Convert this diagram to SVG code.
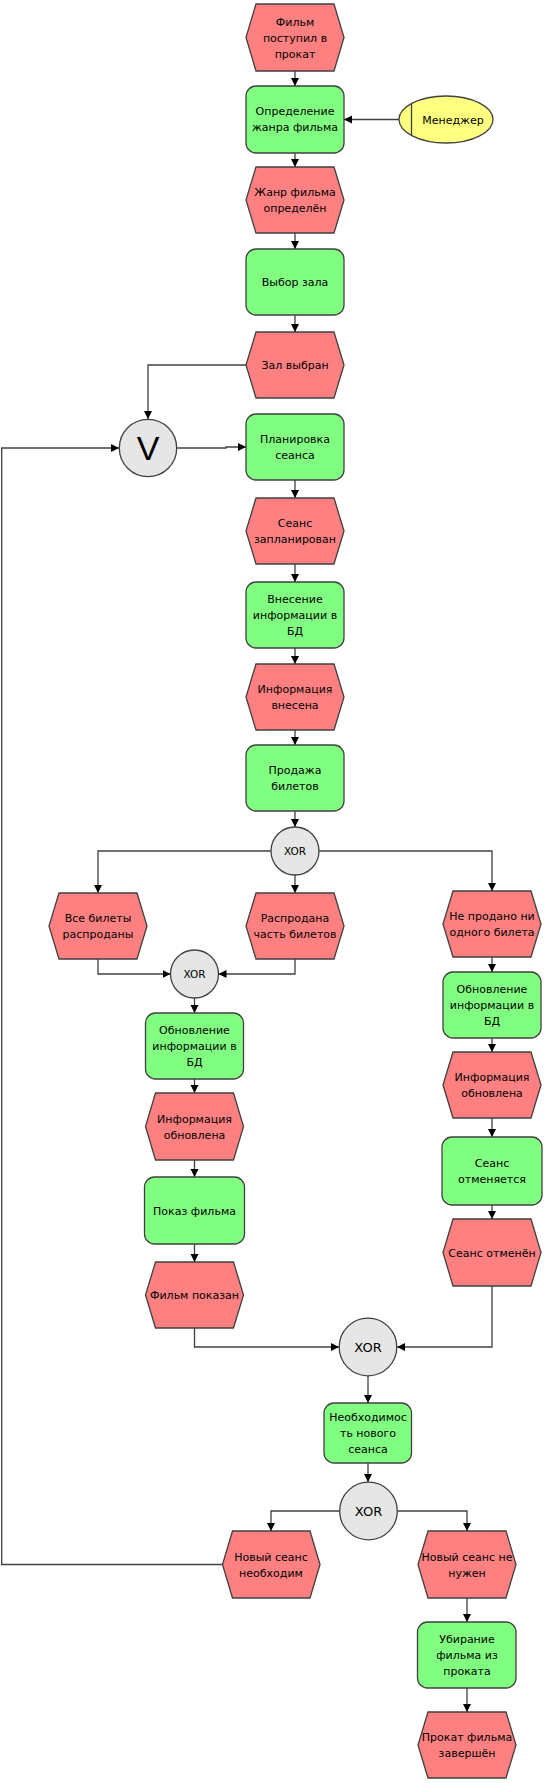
<svg xmlns="http://www.w3.org/2000/svg" width="545" height="1783" viewBox="0 0 545 1783">
<defs>
<style>
.ev{fill:#FF8080;stroke:#404040;stroke-width:1.3}
.fn{fill:#80FF80;stroke:#404040;stroke-width:1.3}
.gt{fill:#E6E6E6;stroke:#404040;stroke-width:1.3}
.or{fill:#FFFF80;stroke:#404040;stroke-width:1.3}
.t{font-family:"DejaVu Sans",Verdana,sans-serif;font-size:11px;fill:#000;text-anchor:middle}
.x1{font-family:"DejaVu Sans",sans-serif;font-size:10.5px;fill:#000;text-anchor:middle}
.x2{font-family:"DejaVu Sans",sans-serif;font-size:13px;fill:#000;text-anchor:middle}
.v{font-family:"Liberation Sans",Arial,sans-serif;font-size:34px;fill:#000;text-anchor:middle}
.c{fill:none;stroke:#404040;stroke-width:1.3}
</style>
<marker id="ar" markerUnits="userSpaceOnUse" markerWidth="10" markerHeight="10" refX="8" refY="4" orient="auto">
<path d="M0,0 L8,4 L0,8 Z" fill="#000"/>
</marker>
</defs>
<rect width="545" height="1783" fill="#fff"/>

<g id="connectors">
<path class="c" marker-end="url(#ar)" d="M295,71 V86"/>
<path class="c" marker-end="url(#ar)" d="M399,119.5 H344"/>
<path class="c" marker-end="url(#ar)" d="M295,153 V167"/>
<path class="c" marker-end="url(#ar)" d="M295,233 V249"/>
<path class="c" marker-end="url(#ar)" d="M295,315 V332"/>
<path class="c" marker-end="url(#ar)" d="M246,365 H148 V419"/>
<path class="c" marker-end="url(#ar)" d="M177,448 H226 V447 H246"/>
<path class="c" marker-end="url(#ar)" d="M295,480 V498"/>
<path class="c" marker-end="url(#ar)" d="M295,564 V582"/>
<path class="c" marker-end="url(#ar)" d="M295,648 V664"/>
<path class="c" marker-end="url(#ar)" d="M295,730 V745"/>
<path class="c" marker-end="url(#ar)" d="M295,811 V827"/>
<path class="c" marker-end="url(#ar)" d="M271,851 H98 V893"/>
<path class="c" marker-end="url(#ar)" d="M295,875 V893"/>
<path class="c" marker-end="url(#ar)" d="M319,851 H492 V891"/>
<path class="c" marker-end="url(#ar)" d="M98,959 V974 H170.5"/>
<path class="c" marker-end="url(#ar)" d="M295,959 V974 H218.5"/>
<path class="c" marker-end="url(#ar)" d="M194.5,998 V1013"/>
<path class="c" marker-end="url(#ar)" d="M194.5,1079 V1093"/>
<path class="c" marker-end="url(#ar)" d="M194.5,1160 V1177"/>
<path class="c" marker-end="url(#ar)" d="M194.5,1244 V1262"/>
<path class="c" marker-end="url(#ar)" d="M194.5,1328 V1347 H339"/>
<path class="c" marker-end="url(#ar)" d="M492,957 V972"/>
<path class="c" marker-end="url(#ar)" d="M492,1038 V1052"/>
<path class="c" marker-end="url(#ar)" d="M492,1118 V1137"/>
<path class="c" marker-end="url(#ar)" d="M492,1205 V1219"/>
<path class="c" marker-end="url(#ar)" d="M492,1286 V1347 H397"/>
<path class="c" marker-end="url(#ar)" d="M368,1376 V1403"/>
<path class="c" marker-end="url(#ar)" d="M368,1463 V1482"/>
<path class="c" marker-end="url(#ar)" d="M339.5,1511 H271 V1531"/>
<path class="c" marker-end="url(#ar)" d="M397.5,1511 H467 V1531"/>
<path class="c" marker-end="url(#ar)" d="M467,1598 V1622"/>
<path class="c" marker-end="url(#ar)" d="M467,1688 V1712"/>
<path class="c" marker-end="url(#ar)" d="M222.5,1564.5 H1.7 V448 H119"/>
</g>

<g id="e1"><polygon class="ev" points="256,4 334,4 344,37.5 334,71 256,71 246,37.5"/>
<text class="t" x="295" y="26">Фильм</text><text class="t" x="295" y="42">поступил в</text><text class="t" x="295" y="58">прокат</text></g>

<g id="f1"><rect class="fn" x="246" y="86" width="98" height="67" rx="10"/>
<text class="t" x="295" y="115">Определение</text><text class="t" x="295" y="131">жанра фильма</text></g>

<g id="manager"><ellipse class="or" cx="446" cy="119.5" rx="47" ry="23.5"/>
<line x1="411.5" y1="103.8" x2="411.5" y2="135.2" stroke="#404040" stroke-width="1.3"/>
<text class="t" x="453" y="123.5">Менеджер</text></g>

<g id="e2"><polygon class="ev" points="256,167 334,167 344,200 334,233 256,233 246,200"/>
<text class="t" x="295" y="196">Жанр фильма</text><text class="t" x="295" y="212">определён</text></g>

<g id="f2"><rect class="fn" x="246" y="249" width="98" height="66" rx="10"/>
<text class="t" x="295" y="286">Выбор зала</text></g>

<g id="e3"><polygon class="ev" points="256,332 334,332 344,365 334,398 256,398 246,365"/>
<text class="t" x="295" y="369">Зал выбран</text></g>

<g id="or1"><circle class="gt" cx="148" cy="448" r="28.7"/>
<text class="v" x="148" y="460">V</text></g>

<g id="f3"><rect class="fn" x="246" y="414" width="98" height="66" rx="10"/>
<text class="t" x="295" y="443">Планировка</text><text class="t" x="295" y="459">сеанса</text></g>

<g id="e4"><polygon class="ev" points="256,498 334,498 344,531 334,564 256,564 246,531"/>
<text class="t" x="295" y="527">Сеанс</text><text class="t" x="295" y="543">запланирован</text></g>

<g id="f4"><rect class="fn" x="246" y="582" width="98" height="66" rx="10"/>
<text class="t" x="295" y="603">Внесение</text><text class="t" x="295" y="619">информации в</text><text class="t" x="295" y="635">БД</text></g>

<g id="e5"><polygon class="ev" points="256,664 334,664 344,697 334,730 256,730 246,697"/>
<text class="t" x="295" y="693">Информация</text><text class="t" x="295" y="709">внесена</text></g>

<g id="f5"><rect class="fn" x="246" y="745" width="98" height="66" rx="10"/>
<text class="t" x="295" y="774">Продажа</text><text class="t" x="295" y="790">билетов</text></g>

<g id="xor1"><circle class="gt" cx="295" cy="851" r="24"/>
<text class="x1" x="295" y="855">XOR</text></g>

<g id="e6"><polygon class="ev" points="59,893 137,893 147,926 137,959 59,959 49,926"/>
<text class="t" x="98" y="922">Все билеты</text><text class="t" x="98" y="938">распроданы</text></g>

<g id="e7"><polygon class="ev" points="256,893 334,893 344,926 334,959 256,959 246,926"/>
<text class="t" x="295" y="922">Распродана</text><text class="t" x="295" y="938">часть билетов</text></g>

<g id="e8"><polygon class="ev" points="453,891 531,891 541,924 531,957 453,957 443,924"/>
<text class="t" x="492" y="920">Не продано ни</text><text class="t" x="492" y="936">одного билета</text></g>

<g id="xor2"><circle class="gt" cx="194.5" cy="974" r="24"/>
<text class="x1" x="194.5" y="978">XOR</text></g>

<g id="f6"><rect class="fn" x="145.5" y="1013" width="98" height="66" rx="10"/>
<text class="t" x="194.5" y="1034">Обновление</text><text class="t" x="194.5" y="1050">информации в</text><text class="t" x="194.5" y="1066">БД</text></g>

<g id="e9"><polygon class="ev" points="155.5,1093 233.5,1093 243.5,1126.5 233.5,1160 155.5,1160 145.5,1126.5"/>
<text class="t" x="194.5" y="1122.5">Информация</text><text class="t" x="194.5" y="1138.5">обновлена</text></g>

<g id="f7"><rect class="fn" x="144.5" y="1177" width="100" height="67" rx="10"/>
<text class="t" x="194.5" y="1214.5">Показ фильма</text></g>

<g id="e10"><polygon class="ev" points="155.5,1262 233.5,1262 243.5,1295 233.5,1328 155.5,1328 145.5,1295"/>
<text class="t" x="194.5" y="1299">Фильм показан</text></g>

<g id="f8"><rect class="fn" x="443" y="972" width="98" height="66" rx="10"/>
<text class="t" x="492" y="993">Обновление</text><text class="t" x="492" y="1009">информации в</text><text class="t" x="492" y="1025">БД</text></g>

<g id="e11"><polygon class="ev" points="453,1052 531,1052 541,1085 531,1118 453,1118 443,1085"/>
<text class="t" x="492" y="1081">Информация</text><text class="t" x="492" y="1097">обновлена</text></g>

<g id="f9"><rect class="fn" x="442" y="1137" width="100" height="68" rx="10"/>
<text class="t" x="492" y="1167">Сеанс</text><text class="t" x="492" y="1183">отменяется</text></g>

<g id="e12"><polygon class="ev" points="453,1219 531,1219 541,1252.5 531,1286 453,1286 443,1252.5"/>
<text class="t" x="492" y="1256.5">Сеанс отменён</text></g>

<g id="xor3"><circle class="gt" cx="368" cy="1347" r="28.8"/>
<text class="x2" x="368" y="1352">XOR</text></g>

<g id="f10"><rect class="fn" x="324" y="1403" width="87.5" height="60" rx="10"/>
<text class="t" x="368" y="1421">Необходимос</text><text class="t" x="368" y="1437">ть нового</text><text class="t" x="368" y="1453">сеанса</text></g>

<g id="xor4"><circle class="gt" cx="368.5" cy="1511" r="28.8"/>
<text class="x2" x="368.5" y="1516">XOR</text></g>

<g id="e13"><polygon class="ev" points="232.5,1531 310,1531 320,1564.5 310,1598 232.5,1598 222.5,1564.5"/>
<text class="t" x="271" y="1560.5">Новый сеанс</text><text class="t" x="271" y="1576.5">необходим</text></g>

<g id="e14"><polygon class="ev" points="428,1531 506,1531 516,1564.5 506,1598 428,1598 418,1564.5"/>
<text class="t" x="467" y="1560.5">Новый сеанс не</text><text class="t" x="467" y="1576.5">нужен</text></g>

<g id="f11"><rect class="fn" x="417.5" y="1622" width="98.5" height="66" rx="10"/>
<text class="t" x="467" y="1643">Убирание</text><text class="t" x="467" y="1659">фильма из</text><text class="t" x="467" y="1675">проката</text></g>

<g id="e15"><polygon class="ev" points="428,1712 506,1712 516,1745 506,1778 428,1778 418,1745"/>
<text class="t" x="467" y="1741">Прокат фильма</text><text class="t" x="467" y="1757">завершён</text></g>
</svg>
